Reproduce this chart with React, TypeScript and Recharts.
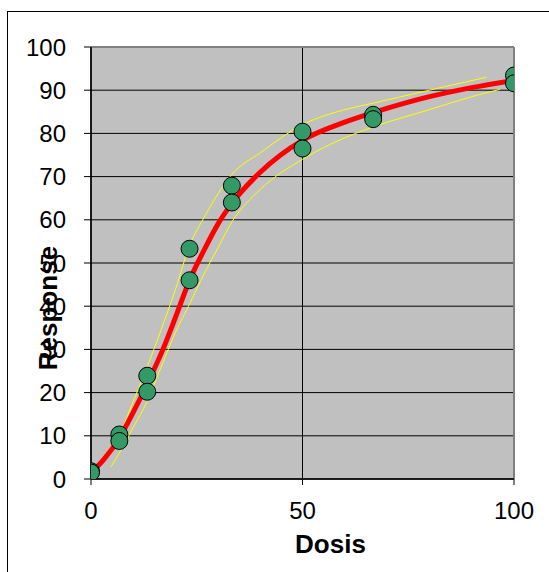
import {
  ComposedChart,
  Line,
  Scatter,
  XAxis,
  YAxis,
  CartesianGrid,
  ReferenceLine,
  Label,
} from "recharts";

// observed responses (two replicates per dose)
const doses = [0, 0, 6.7, 6.7, 13.3, 13.3, 23.3, 23.3, 33.3, 33.3, 50, 50, 66.7, 66.7, 100, 100];
const responses = [1.8, 1.5, 10.3, 8.8, 23.9, 20.2, 53.3, 46.0, 67.9, 64.0, 80.4, 76.5, 84.3, 83.3, 93.4, 91.6];

// fitted curve
const fitX = [0, 3, 6.7, 10, 13.3, 17, 20, 23.3, 27, 30, 33.3, 40, 50, 60, 66.7, 80, 90, 100];
const fitY = [1.5, 4.5, 9.5, 15.5, 22, 30, 37.5, 46, 53.5, 59, 63.8, 71, 78.4, 82.6, 84.8, 88.5, 90.6, 92.3];

// confidence band, upper and lower
const upperX = [1.5, 4, 7, 10, 13.3, 16, 20, 23.3, 27, 30, 33.3, 40, 50, 60, 66.7, 80, 93.5];
const upperY = [3, 6.5, 11, 18, 26, 33, 44, 54, 61, 66, 70.5, 75.5, 82, 85.5, 87, 90, 93];
const lowerX = [4.7, 7, 10, 13.3, 16, 20, 23.3, 27, 30, 33.3, 40, 50, 60, 66.7, 80, 90, 96.7];
const lowerY = [2.8, 6.5, 12, 18, 24.5, 34, 40.5, 48, 53.5, 59.5, 67, 74, 79, 81.5, 85.5, 88.5, 90.2];

const xTicks = [0, 50, 100];
const yTicks = [0, 10, 20, 30, 40, 50, 60, 70, 80, 90, 100];

const points = doses.map((d, i) => ({ x: d, y: responses[i] }));
const fit = fitX.map((x, i) => ({ x, y: fitY[i] }));
const upper = upperX.map((x, i) => ({ x, y: upperY[i] }));
const lower = lowerX.map((x, i) => ({ x, y: lowerY[i] }));

const font = "Arial, 'Liberation Sans', sans-serif";
const tickStyle = { fontSize: 24, fill: "#000", fontFamily: font };

function Dot(props: any) {
  return <circle cx={props.cx} cy={props.cy} r={8.5} fill="#339966" stroke="#000" strokeWidth={1} />;
}

export default function App() {
  return (
    <div
      style={{
        position: "absolute",
        left: 0,
        top: 0,
        width: 549,
        height: 572,
        overflow: "hidden",
        background: "#fff",
      }}
    >
      <div
        style={{
          position: "absolute",
          left: 7,
          top: 11,
          width: 600,
          height: 600,
          border: "1px solid #000",
        }}
      />
      <div style={{ position: "absolute", left: 0, top: 0 }}>
        <ComposedChart width={549} height={572} margin={{ top: 47, right: 35, bottom: 0, left: 0 }}>
          <CartesianGrid fill="#C0C0C0" fillOpacity={1} stroke="#000" strokeWidth={1} />
          <XAxis
            type="number"
            dataKey="x"
            domain={[0, 100]}
            ticks={xTicks}
            height={93}
            tickSize={6}
            tickMargin={17}
            axisLine={{ stroke: "#000", strokeWidth: 1.5 }}
            tickLine={{ stroke: "#000" }}
            tick={tickStyle}
            allowDataOverflow
          >
            <Label
              value="Dosis"
              content={(p: any) => (
                <text
                  x={p.viewBox.x + p.viewBox.width / 2 + 28}
                  y={553}
                  textAnchor="middle"
                  fontSize={26}
                  fontWeight="bold"
                  fontFamily={font}
                  fill="#000"
                >
                  Dosis
                </text>
              )}
            />
          </XAxis>
          <YAxis
            type="number"
            dataKey="y"
            domain={[0, 100]}
            ticks={yTicks}
            width={91}
            tickSize={7}
            tickMargin={18}
            axisLine={{ stroke: "#000", strokeWidth: 1.5 }}
            tickLine={{ stroke: "#000" }}
            tick={tickStyle}
            allowDataOverflow
          >
            <Label
              value="Response"
              content={(p: any) => {
                const cx = 48;
                const cy = p.viewBox.y + p.viewBox.height / 2 + 45;
                return (
                  <text
                    x={cx}
                    y={cy}
                    transform={`rotate(-90 ${cx} ${cy})`}
                    textAnchor="middle"
                    dominantBaseline="central"
                    fontSize={26}
                    fontWeight="bold"
                    fontFamily={font}
                    fill="#000"
                  >
                    Response
                  </text>
                );
              }}
            />
          </YAxis>
          <ReferenceLine y={100} stroke="#808080" strokeWidth={2} />
          <ReferenceLine x={100} stroke="#808080" strokeWidth={2} />
          <Line
            data={upper}
            dataKey="y"
            type="monotone"
            stroke="#FFFF00"
            strokeWidth={1}
            dot={false}
            isAnimationActive={false}
          />
          <Line
            data={lower}
            dataKey="y"
            type="monotone"
            stroke="#FFFF00"
            strokeWidth={1}
            dot={false}
            isAnimationActive={false}
          />
          <Line
            data={fit}
            dataKey="y"
            type="monotone"
            stroke="#FF0000"
            strokeWidth={5}
            dot={false}
            isAnimationActive={false}
          />
          <Scatter data={points} dataKey="y" shape={<Dot />} isAnimationActive={false} />
        </ComposedChart>
      </div>
    </div>
  );
}
